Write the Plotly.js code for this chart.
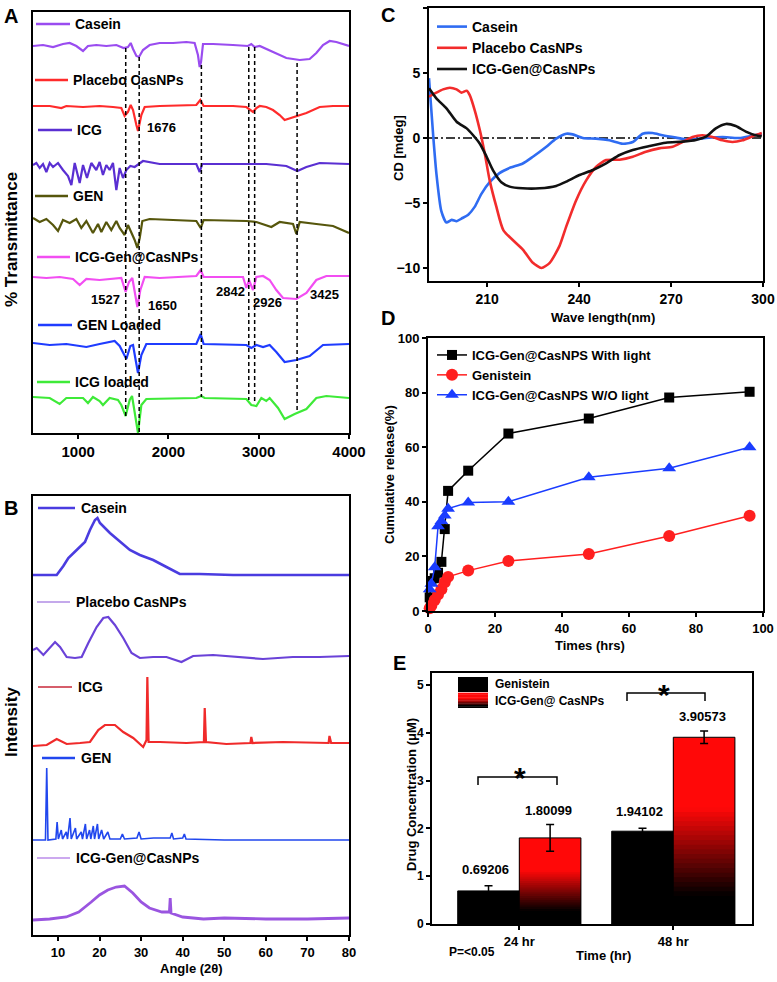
<!DOCTYPE html>
<html>
<head>
<meta charset="utf-8">
<script src="https://cdn.plot.ly/plotly-3.0.1.min.js"></script>
<style>
  html, body { margin: 0; padding: 0; background: #fff; }
  #chart { width: 777px; height: 982px; }
</style>
</head>
<body>
<div id="chart"></div>
<script>
// ---------- A: FTIR spectra (wavenumber, stacked transmittance units) ----------
const ftCasein = [[500,46],[611,45],[722,47],[832,44],[906,43],[980,46],[1054,51],[1109,46],[1201,45],[1312,46],[1423,45],[1504,48],[1552,47],[1582,43],[1608,49],[1645,56],[1674,57],[1718,50],[1792,45],[1903,43],[2051,43],[2198,42],[2290,43],[2327,55],[2346,67],[2361,62],[2383,44],[2494,44],[2715,45],[2881,46],[2918,44],[2955,47],[3011,46],[3084,49],[3195,54],[3306,58],[3454,60],[3564,59],[3638,53],[3712,45],[3786,41],[3860,42],[4000,46]];
const ftPlacebo = [[500,106],[685,106],[814,108],[869,106],[1054,107],[1238,106],[1386,107],[1478,108],[1515,116],[1552,112],[1582,105],[1608,110],[1645,125],[1663,131],[1700,115],[1737,107],[1903,106],[2309,105],[2353,100],[2390,106],[2715,106],[2863,107],[2937,112],[2974,108],[3011,106],[3084,107],[3158,110],[3232,115],[3287,120],[3380,117],[3528,113],[3675,107],[3823,106],[4000,106]];
const ftIcg = [[500,165],[537,163],[574,168],[611,164],[648,172],[685,163],[722,167],[777,163],[832,170],[888,176],[925,185],[962,163],[1017,183],[1054,165],[1098,178],[1146,163],[1201,170],[1238,162],[1275,175],[1312,165],[1349,170],[1386,163],[1423,190],[1460,168],[1497,178],[1534,170],[1578,166],[1626,167],[1718,161],[1903,164],[2309,164],[2346,172],[2375,164],[2900,164],[3084,164],[3306,166],[3428,171],[3528,167],[3675,163],[4000,164]];
const ftGen = [[500,218],[574,222],[648,219],[722,225],[777,231],[832,220],[906,223],[980,219],[1035,228],[1091,221],[1164,233],[1220,224],[1257,232],[1312,222],[1367,230],[1423,221],[1460,228],[1515,235],[1552,225],[1589,232],[1626,240],[1656,248],[1682,238],[1711,221],[1792,219],[2309,221],[2357,228],[2390,220],[2863,221],[2974,222],[3084,225],[3140,227],[3232,222],[3380,224],[3417,234],[3454,222],[3638,224],[3823,226],[4000,233]];
const ftIcgGen = [[500,277],[648,278],[795,277],[943,279],[1017,285],[1091,279],[1238,280],[1386,279],[1478,278],[1526,292],[1563,282],[1600,278],[1634,295],[1656,307],[1689,290],[1737,277],[1903,278],[2309,276],[2357,270],[2390,277],[2826,277],[2863,288],[2892,280],[2937,290],[2974,277],[3048,276],[3121,280],[3195,290],[3269,298],[3417,299],[3528,293],[3638,280],[3749,276],[4000,276]];
const ftGenLoaded = [[500,343],[685,345],[869,344],[1091,347],[1238,344],[1404,341],[1460,346],[1534,359],[1578,346],[1608,345],[1637,360],[1663,373],[1700,355],[1755,344],[2309,344],[2357,334],[2390,344],[2863,345],[2918,348],[2974,345],[3048,347],[3121,345],[3195,352],[3287,362],[3417,360],[3564,356],[3712,345],[4000,344]];
const ftIcgLoaded = [[500,397],[685,398],[795,404],[869,398],[1054,398],[1109,403],[1164,397],[1238,401],[1275,405],[1349,398],[1441,400],[1478,405],[1526,416],[1571,400],[1597,396],[1634,415],[1663,433],[1700,405],[1755,399],[2309,398],[2364,396],[2401,398],[2863,399],[2918,405],[2974,406],[3029,398],[3084,401],[3121,398],[3214,408],[3287,419],[3398,414],[3528,409],[3638,398],[3749,396],[4000,398]];
const ftNames = ['Casein', 'Placebo CasNPs', 'ICG', 'GEN', 'ICG-Gen@CasNPs', 'GEN Loaded', 'ICG loaded'];
const ftPeakLines = [1527, 1676, 2365, 2890, 2955, 3425];
const ftPeakLabels = ['1676', '1527', '1650', '2842', '2926', '3425'];

// ---------- B: XRD patterns (2 theta, stacked intensity units) ----------
const xrdCasein = [[4,575],[9.7,575],[11.3,566],[12.5,558],[14.5,550],[16.5,542],[17.7,530],[18.9,520],[19.5,518],[20.1,523],[22.5,533],[24.9,542],[27.3,550],[29.7,555],[32.9,560],[36.1,567],[39.3,574],[44.1,574],[52.1,575],[64.1,575],[80,575]];
const xrdPlacebo = [[4,650],[4.9,648],[6.5,655],[8.1,647],[9.3,642],[10.5,647],[12.1,657],[14.1,658],[15.7,657],[17.3,643],[19.3,627],[20.9,618],[22.1,617],[23.7,625],[25.7,638],[27.7,653],[29.7,658],[32.9,657],[36.1,657],[39.7,662],[42.5,656],[47.3,655],[53.7,657],[59.3,659],[66.5,657],[72.9,657],[80,656]];
const xrdIcg = [[4,746],[7.3,745],[9.7,739],[12.1,744],[15.3,743],[17.7,742],[19.7,730],[21.3,725],[23.7,725],[25.7,732],[28.1,738],[30.5,747],[31.3,740],[31.5,677],[31.8,742],[34.5,742],[40.9,743],[45.1,742],[45.3,708],[45.6,742],[50.5,744],[56.3,743],[56.5,737],[56.8,743],[64.1,742],[75.1,743],[75.3,736],[75.7,743],[80,743]];
const xrdGen = [[4,840],[7.0,840],[7.3,768],[7.6,840],[9.5,839],[9.8,822],[10.1,839],[10.8,830],[11.1,839],[12.0,832],[12.3,839],[12.9,818],[13.2,839],[14.2,828],[14.5,839],[15.6,832],[15.9,839],[16.6,824],[16.9,839],[17.6,830],[17.9,839],[18.5,826],[18.8,839],[19.5,824],[19.8,839],[20.5,830],[21,839],[22,832],[22.5,839],[25,839],[25.5,834],[26,839],[29,838],[29.5,832],[30,839],[33,838],[37,838],[37.4,833],[37.8,839],[40,838],[40.4,834],[40.8,839],[50,840],[60,840],[70,840],[80,840]];
const xrdIcgGen = [[4,920],[8,919],[12,917],[15,912],[18,902],[20,895],[22,890],[24,887],[26,886],[28,893],[30,902],[32,908],[35,912],[36.8,912],[37,898],[37.2,913],[40,917],[45,919],[50,918],[60,919],[70,919],[80,918]];
const xrdNames = ['Casein', 'Placebo CasNPs', 'ICG', 'GEN', 'ICG-Gen@CasNPs'];

// ---------- C: CD spectra (nm, mdeg) ----------
const cdCasein = [[191,4.6],[192.4,0.08],[193.4,-2.7],[195,-5.6],[196.7,-6.5],[198.4,-6.3],[200,-6.4],[201.6,-6.2],[203.8,-5.9],[205.9,-5.3],[208.1,-4.3],[210.8,-3.4],[214,-2.7],[217.3,-2.3],[221.6,-1.96],[224.9,-1.44],[229.3,-0.67],[232.5,-0.05],[235.8,0.33],[237.9,0.28],[241.2,0],[245.5,-0.05],[249.9,-0.18],[254.2,-0.44],[257.5,-0.31],[260.7,0.33],[264,0.38],[267.2,0.21],[271.6,0.03],[275.9,-0.13],[281.4,0],[286.8,0.08],[292.2,0],[299.6,0.33]];
const cdPlacebo = [[191,3.18],[193.4,3.49],[195.6,3.74],[197.8,3.87],[200,3.74],[201.6,3.49],[203.3,3.64],[204.3,3.3],[205.9,2.15],[207.6,0.59],[209.2,-1.2],[210.8,-3.26],[213,-5.3],[215.3,-7.1],[221.7,-8.6],[224.9,-9.6],[227.7,-10.0],[230.4,-9.6],[233.6,-8.3],[235.8,-6.8],[239,-4.8],[242.3,-3.26],[245.5,-2.23],[248.8,-1.7],[253.2,-1.67],[257.5,-1.44],[261.8,-1.05],[266.1,-0.8],[270.5,-0.67],[273.7,-0.31],[277,0.08],[280.2,0.21],[283.5,0.08],[286.8,-0.18],[290,-0.31],[293.3,-0.18],[296.6,0.13],[299.6,0.38]];
const cdIcgGen = [[191,3.82],[193.4,3.05],[196.7,2.28],[200,1.25],[203.3,0.74],[205.4,0.21],[207.6,-0.44],[209.8,-1.44],[211.9,-2.49],[214.6,-3.4],[217.3,-3.74],[221.6,-3.87],[227.1,-3.87],[232.5,-3.69],[235.8,-3.36],[240.1,-2.85],[244.5,-2.46],[248.8,-1.95],[253.2,-1.31],[257.5,-0.92],[262.9,-0.62],[268.3,-0.36],[273.7,-0.28],[278.1,-0.15],[281.4,0.1],[284.6,0.74],[287.9,1.08],[291.1,0.92],[294.4,0.49],[297.6,0.21],[299.6,0.13]];
const cdNames = ['Casein', 'Placebo CasNPs', 'ICG-Gen@CasNPs'];

// ---------- D: cumulative release ----------
const relTime = [0.5, 1, 2, 3, 4, 5, 6, 12, 24, 48, 72, 96];
const relLight = [5, 11, 12, 14, 18, 30, 44, 51.4, 65, 70.5, 78.2, 80.3];
const relGenistein = [1, 2, 4, 6, 8, 10.5, 12.5, 14.8, 18.3, 20.9, 27.5, 34.9];
const relDark = [8, 10, 16, 31, 33, 35, 37.5, 39.7, 40, 49, 52.3, 60];
const relNames = ['ICG-Gen@CasNPS With light', 'Genistein', 'ICG-Gen@CasNPS W/O light'];

// ---------- E: drug concentration ----------
const concCats = ['24 hr', '48 hr'];
const concGen = [0.69206, 1.94102];
const concGenErr = [0.11, 0.06];
const concIcg = [1.80099, 3.90573];
const concIcgErr = [0.28, 0.13];
const concNames = ['Genistein', 'ICG-Gen@ CasNPs'];

// ---------- helpers ----------
const W = 777, H = 982;
const px = v => v / W;
const py = v => 1 - v / H;
const FONT = {family: 'Liberation Sans, Arial, sans-serif', color: '#000', weight: 'bold'};
const fnt = size => Object.assign({}, FONT, {size: size});
function note(text, x, y, size, extra) {
    return Object.assign({xref: 'paper', yref: 'paper', x: px(x), y: py(y), text: text,
        showarrow: false, font: fnt(size), xanchor: 'center', yanchor: 'middle'}, extra || {});
}
function hline(x0, x1, y, color, width) {
    return {type: 'line', xref: 'paper', yref: 'paper', x0: px(x0), x1: px(x1), y0: py(y), y1: py(y),
        line: {color: color, width: width}};
}
const xs = arr => arr.map(p => p[0]);
const ys = arr => arr.map(p => p[1]);

const traces = [];
const shapes = [];
const annotations = [];

// A traces
const ftSpectra = [ftCasein, ftPlacebo, ftIcg, ftGen, ftIcgGen, ftGenLoaded, ftIcgLoaded];
const ftColors = ['#9a4cf0', '#ff2b2b', '#5a2fd2', '#56560c', '#f24ef2', '#1f3cff', '#3eea38'];
const ftLegendPos = [[36, 70, 24], [35, 68, 80], [38, 72, 130], [35, 68, 196], [37, 70, 257], [38, 72, 325], [37, 70, 382]];
ftSpectra.forEach((s, i) => {
    traces.push({type: 'scatter', mode: 'lines', x: xs(s), y: ys(s), xaxis: 'x', yaxis: 'y',
        line: {color: ftColors[i], width: 2.2}, showlegend: false, hoverinfo: 'skip'});
    const lp = ftLegendPos[i];
    shapes.push(hline(lp[0], lp[1], lp[2], ftColors[i], 2.5));
    annotations.push(note(ftNames[i], lp[1] + 3, lp[2], 14, {xanchor: 'left'}));
});
const ftPeakEnds = [[48, 417], [57, 433], [65, 397], [47, 400], [47, 403], [63, 412]];
ftPeakLines.forEach((wn, i) => {
    shapes.push({type: 'line', xref: 'x', yref: 'y', x0: wn, x1: wn, y0: ftPeakEnds[i][0], y1: ftPeakEnds[i][1],
        line: {color: '#000', width: 1.5, dash: '4px,3px'}});
});
const ftLabelPos = [[161, 127], [105, 300], [162, 306], [230, 291], [267, 302], [324, 295]];
ftPeakLabels.forEach((t, i) => annotations.push(note(t, ftLabelPos[i][0], ftLabelPos[i][1], 13)));

// B traces
const xrdSets = [xrdCasein, xrdPlacebo, xrdIcg, xrdGen, xrdIcgGen];
const xrdColors = ['#4a3ce0', '#6a42d8', '#f02a2a', '#2147ee', '#9a55e0'];
const xrdWidths = [2.6, 2.2, 2.2, 1.6, 2.8];
const xrdLegColors = ['#4a3ce0', '#8a55d8', '#c8283a', '#2147ee', '#9a55e0'];
const xrdLegendPos = [[38, 75, 508, 2.5], [37, 70, 602, 1.2], [38, 72, 687, 1.5], [42, 75, 758, 2.5], [37, 70, 858, 1.2]];
xrdSets.forEach((s, i) => {
    traces.push({type: 'scatter', mode: 'lines', x: xs(s), y: ys(s), xaxis: 'x2', yaxis: 'y2',
        line: {color: xrdColors[i], width: xrdWidths[i]}, showlegend: false, hoverinfo: 'skip'});
    const lp = xrdLegendPos[i];
    shapes.push(hline(lp[0], lp[1], lp[2], xrdLegColors[i], lp[3]));
    annotations.push(note(xrdNames[i], lp[1] + 4, lp[2], 14, {xanchor: 'left'}));
});

// C traces
const cdSets = [cdCasein, cdPlacebo, cdIcgGen];
const cdColors = ['#2f6cf2', '#f22c2c', '#111111'];
cdSets.forEach((s, i) => {
    traces.push({type: 'scatter', mode: 'lines', x: xs(s), y: ys(s), xaxis: 'x3', yaxis: 'y3',
        name: cdNames[i], legend: 'legend', line: {color: cdColors[i], width: 2.6, shape: 'spline', smoothing: 0.6},
        hoverinfo: 'skip'});
});
shapes.push({type: 'line', xref: 'x3', yref: 'y3', x0: 191, x1: 300, y0: 0, y1: 0, layer: 'below',
    line: {color: '#000', width: 1.5, dash: '9px,3px,2px,3px'}});

// D traces
const relSets = [relLight, relGenistein, relDark];
const relColors = ['#000000', '#ff1f1f', '#1a3cff'];
const relSymbols = ['square', 'circle', 'triangle-up'];
const relSizes = [10, 12, 12];
relSets.forEach((s, i) => {
    traces.push({type: 'scatter', mode: 'lines+markers', x: relTime, y: s, xaxis: 'x4', yaxis: 'y4',
        name: relNames[i], legend: 'legend2', cliponaxis: false,
        line: {color: relColors[i], width: 1.5},
        marker: {color: relColors[i], symbol: relSymbols[i], size: relSizes[i]}, hoverinfo: 'skip'});
});

// E traces
traces.push({type: 'bar', x: concCats, y: concGen, xaxis: 'x5', yaxis: 'y5', offsetgroup: 'gen',
    marker: {color: '#000', line: {color: '#000', width: 1}}, showlegend: false, hoverinfo: 'skip',
    error_y: {type: 'data', array: concGenErr, color: '#000', thickness: 1.5, width: 4}});
const NSEG = 40;
function gradColor(f) {
    const t = Math.max(0, Math.min(1, (f - 0.15) / 0.47));
    return 'rgb(' + Math.round(255 * t) + ',' + Math.round(8 * t) + ',' + Math.round(8 * t) + ')';
}
// red-to-black gradient: nested bars from the full height down, each one overdrawing the lower part
for (let k = NSEG - 1; k >= 0; k--) {
    traces.push({type: 'bar', x: concCats, y: concIcg.map(v => v * (k + 1) / NSEG),
        xaxis: 'x5', yaxis: 'y5', offsetgroup: 'icg', marker: {color: gradColor((k + 0.5) / NSEG), line: {width: 0}},
        showlegend: false, hoverinfo: 'skip'});
}
traces.push({type: 'bar', x: concCats, y: concIcg, xaxis: 'x5', yaxis: 'y5', offsetgroup: 'icg',
    marker: {color: 'rgba(0,0,0,0)', line: {color: '#000', width: 1}}, showlegend: false, hoverinfo: 'skip',
    error_y: {type: 'data', array: concIcgErr, color: '#000', thickness: 1.5, width: 4}});
// value labels
concCats.forEach((c, i) => {
    annotations.push({xref: 'x5', yref: 'y5', x: c, y: concGen[i] + concGenErr[i], xshift: -34,
        yshift: 7, yanchor: 'bottom', text: concGen[i].toString(), showarrow: false, font: fnt(13)});
    annotations.push({xref: 'x5', yref: 'y5', x: c, y: concIcg[i] + concIcgErr[i], xshift: 29,
        yshift: 5, yanchor: 'bottom', text: concIcg[i].toString(), showarrow: false, font: fnt(13)});
});
// E legend
shapes.push({type: 'rect', xref: 'paper', yref: 'paper', x0: px(458), x1: px(488), y0: py(692), y1: py(677),
    fillcolor: '#000', line: {width: 0}});
for (let k = 0; k < 10; k++) {
    shapes.push({type: 'rect', xref: 'paper', yref: 'paper', x0: px(458), x1: px(488),
        y0: py(708 - k * 1.5), y1: py(708 - (k + 1) * 1.5 - 0.3), fillcolor: gradColor((k + 0.5) / 10), line: {width: 0}});
}
annotations.push(note(concNames[0], 493, 684, 12, {xanchor: 'left'}));
annotations.push(note(concNames[1], 493, 701, 12, {xanchor: 'left'}));
// significance brackets
shapes.push({type: 'path', xref: 'paper', yref: 'paper', line: {color: '#000', width: 1.5},
    path: 'M ' + px(478) + ',' + py(785) + ' L ' + px(478) + ',' + py(777) + ' L ' + px(557) + ',' + py(777) + ' L ' + px(557) + ',' + py(785)});
shapes.push({type: 'path', xref: 'paper', yref: 'paper', line: {color: '#000', width: 1.5},
    path: 'M ' + px(627) + ',' + py(701) + ' L ' + px(627) + ',' + py(693) + ' L ' + px(705) + ',' + py(693) + ' L ' + px(705) + ',' + py(701)});
annotations.push(note('*', 520, 777, 30));
annotations.push(note('*', 664, 694, 30));

// panel letters, axis titles
annotations.push(note('A', 11, 16, 20));
annotations.push(note('B', 11, 508, 20));
annotations.push(note('C', 388, 15, 20));
annotations.push(note('D', 388, 318, 20));
annotations.push(note('E', 399, 663, 20));
annotations.push(note('% Transmittance', 11, 240, 17, {textangle: -90}));
annotations.push(note('Intensity', 11, 722, 17, {textangle: -90}));
annotations.push(note('Angle (2θ)', 191, 968, 13));
annotations.push(note('CD [mdeg]', 399, 148, 13, {textangle: -90}));
annotations.push(note('Wave length(nm)', 603, 318, 13));
annotations.push(note('Cumulative release(%)', 390, 475, 13, {textangle: -90}));
annotations.push(note('Times (hrs)', 590, 645, 13));
annotations.push(note('Drug Concentration (μM)', 411, 795, 13, {textangle: -90}));
annotations.push(note('Time (hr)', 603, 955, 13));
annotations.push(note('P=<0.05', 472, 952, 12));

const box = {showline: true, mirror: true, linewidth: 2, linecolor: '#000', showgrid: false, zeroline: false,
    ticks: 'outside', ticklen: 4, tickwidth: 2, tickcolor: '#000'};
const ax = o => Object.assign({}, box, o);

const layout = {
    width: W, height: H, margin: {l: 0, r: 0, t: 0, b: 0}, autosize: false,
    paper_bgcolor: '#fff', plot_bgcolor: '#fff', font: fnt(13),
    barmode: 'group', bargap: 0.2, bargroupgap: 0,
    xaxis: ax({domain: [px(33), px(349)], range: [500, 4000], anchor: 'y', tickvals: [1000, 2000, 3000, 4000], tickfont: fnt(15)}),
    yaxis: ax({domain: [py(433), py(12)], range: [433, 12], anchor: 'x', ticks: '', showticklabels: false}),
    xaxis2: ax({domain: [px(33), px(349)], range: [4, 80], anchor: 'y2', tickvals: [10, 20, 30, 40, 50, 60, 70, 80], tickfont: fnt(13)}),
    yaxis2: ax({domain: [py(935), py(496)], range: [935, 496], anchor: 'x2', ticks: '', showticklabels: false}),
    xaxis3: ax({domain: [px(429), px(763)], range: [191, 300], anchor: 'y3', tickvals: [210, 240, 270, 300], tickfont: fnt(14)}),
    yaxis3: ax({domain: [py(281), py(8)], range: [-11, 10], anchor: 'x3', tickvals: [-10, -5, 0, 5, 10], tickfont: fnt(14)}),
    xaxis4: ax({domain: [px(428), px(763)], range: [0, 100], anchor: 'y4', tickvals: [0, 20, 40, 60, 80, 100], tickfont: fnt(13)}),
    yaxis4: ax({domain: [py(611), py(338)], range: [0, 100], anchor: 'x4', tickvals: [0, 20, 40, 60, 80, 100], tickfont: fnt(13)}),
    xaxis5: ax({domain: [px(432), px(752)], type: 'category', range: [-0.567, 1.511], anchor: 'y5', tickfont: fnt(13)}),
    yaxis5: ax({domain: [py(924), py(673)], range: [0, 5.25], anchor: 'x5', tickvals: [0, 1, 2, 3, 4, 5], tickfont: fnt(12)}),
    legend: {x: px(432), y: py(11), xanchor: 'left', yanchor: 'top', bgcolor: 'rgba(0,0,0,0)', font: fnt(14),
        tracegroupgap: 0, itemwidth: 30},
    legend2: {x: px(432), y: py(340), xanchor: 'left', yanchor: 'top', bgcolor: 'rgba(0,0,0,0)', font: fnt(13),
        tracegroupgap: 0, itemwidth: 30},
    shapes: shapes,
    annotations: annotations
};

Plotly.newPlot('chart', traces, layout, {displayModeBar: false, staticPlot: true});
</script>
</body>
</html>
